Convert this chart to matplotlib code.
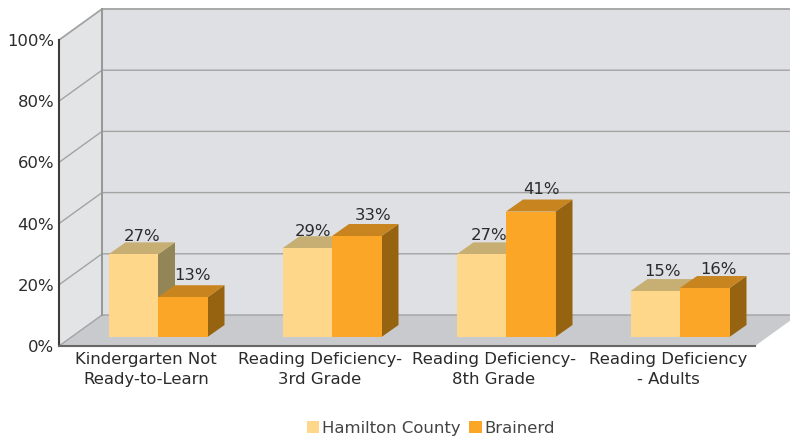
import matplotlib
matplotlib.use("Agg")
import matplotlib.pyplot as plt
from matplotlib.patches import Polygon, Patch

plt.rcParams["font.family"] = ["DejaVu Sans"]

categories = ["Kindergarten Not\nReady-to-Learn", "Reading Deficiency-\n3rd Grade",
              "Reading Deficiency-\n8th Grade", "Reading Deficiency\n- Adults"]
series_names = ["Hamilton County", "Brainerd"]
hamilton = [27, 29, 27, 15]
brainerd = [13, 33, 41, 16]
y_ticks = [0, 20, 40, 60, 80, 100]

W, H = 790, 440
L, R, T, B = 59, 755, 40, 346
FS = 11.85
# small per-label shifts (pixels) that mimic the original's label placement
label_nudges = [[(0, -2), (-3, -3), (-1, -1), (-1, 0)],
                [(1, 2), (8, 1), (2, 2), (5, -1)]]

fig = plt.figure(figsize=(W / 100, H / 100), dpi=100)
ax = fig.add_axes([L / W, 1 - B / H, (R - L) / W, (B - T) / H])
ax.set_xlim(-0.5, 3.5)
ax.set_ylim(0, 100)
ax.patch.set_visible(False)
for s in ("top", "right"):
    ax.spines[s].set_visible(False)
ax.spines["left"].set_color("#3c3c3c")
ax.spines["left"].set_linewidth(1.5)
ax.spines["bottom"].set_color("#686868")
ax.spines["bottom"].set_linewidth(1.5)
ax.spines["left"].set_zorder(8)
ax.spines["bottom"].set_zorder(8)

ux = 4 / (R - L)          # data units per pixel
uy = 100 / (B - T)
DX, DY = 43 * ux, 31 * uy  # chart depth
X0, X1 = -0.5, 3.5

def poly(pts, fc, z, ec="none", lw=0):
    ax.add_patch(Polygon(pts, closed=True, fc=fc, ec=ec, lw=lw, zorder=z, clip_on=False))

WALL, FLOOR, GRID = "#dfe0e3", "#c9cacd", "#a3a3a3"
poly([(X0 + DX, DY), (X1 + DX, DY), (X1 + DX, 100 + DY), (X0 + DX, 100 + DY)], WALL, 1)
poly([(X0, 0), (X0 + DX, DY), (X0 + DX, 100 + DY), (X0, 100)], "#e3e4e6", 1)
poly([(X0, 0), (X1, 0), (X1 + DX, DY), (X0 + DX, DY)], FLOOR, 1)

for v in y_ticks:
    ax.plot([X0, X0 + DX, X1 + DX], [v, v + DY, v + DY], color=GRID,
            lw=1.0 if v not in (100,) else 1.3, clip_on=False, zorder=2)
ax.plot([X0 + DX, X0 + DX], [DY, 100 + DY], color="#969696", lw=1.4, clip_on=False, zorder=2)

FACES = [("#fed78a", "#c7ae72", "#938656"), ("#fba626", "#c8841e", "#966311")]
BW = 49.5 * ux
SX, SY = 12 * ux, 9 * uy      # bar offset into the chart
BX, BY = 17 * ux, 12 * uy     # bar depth

for i, (name, values) in enumerate(zip(series_names, [hamilton, brainerd])):
    front, top, side = FACES[i]
    for c, v in enumerate(values):
        x0 = c + SX + (i - 1) * BW
        x1 = x0 + BW
        y0, y1 = SY, SY + v
        z = 3 + i + c * 2
        poly([(x1, y0), (x1 + BX, y0 + BY), (x1 + BX, y1 + BY), (x1, y1)], side, z)
        poly([(x0, y1), (x1, y1), (x1 + BX, y1 + BY), (x0 + BX, y1 + BY)], top, z)
        poly([(x0, y0), (x1, y0), (x1, y1), (x0, y1)], front, z + 0.1)
        nx, ny = label_nudges[i][c]
        ax.annotate(f"{v}%", (x0 + BW / 2 + BX / 2, y1 + BY),
                    xytext=(nx * 0.72, 0.2 + ny * 0.72),
                    textcoords="offset points", ha="center", va="bottom",
                    fontsize=FS, color="#2b2b2b", zorder=20, annotation_clip=False)

ax.set_xticks(range(len(categories)), categories)
ax.set_yticks(y_ticks, [f"{v}%" for v in y_ticks])
ax.tick_params(axis="x", length=0, pad=4, labelsize=FS, labelcolor="#2b2b2b")
ax.tick_params(axis="y", length=0, pad=3.5, labelsize=FS, labelcolor="#2b2b2b")
for lab in ax.get_xticklabels():
    lab.set_linespacing(1.45)
for lab in ax.get_yticklabels():
    lab.set_y(lab.get_position()[1])

handles = [Patch(fc=FACES[i][0], ec="none", label=series_names[i]) for i in range(2)]
fig.legend(handles=handles, loc="lower center", bbox_to_anchor=(431 / W, -0.017), ncol=2, frameon=False,
           fontsize=FS, labelcolor="#444444", handlelength=0.75, handleheight=0.75,
           handletextpad=0.2, columnspacing=0.5, borderpad=0.2)
fig.savefig("out.png", dpi=100)
